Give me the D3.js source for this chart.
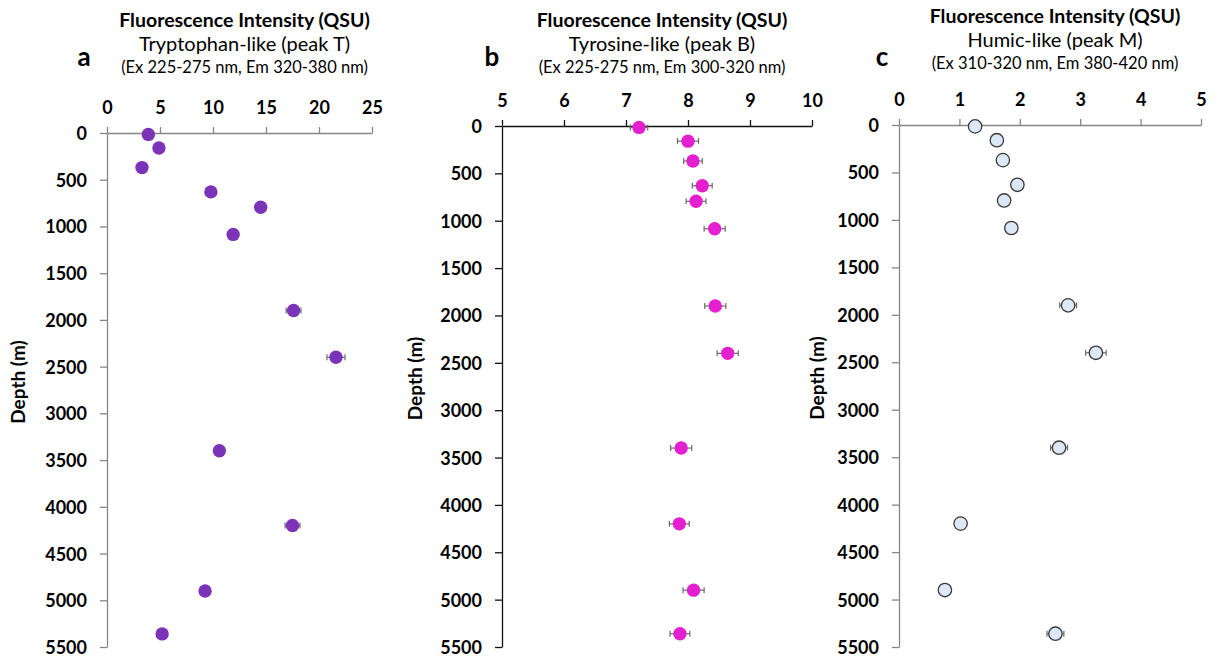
<!DOCTYPE html>
<html>
<head>
<meta charset="utf-8">
<script src="https://cdn.jsdelivr.net/npm/d3@7"></script>
<style>
  body { margin: 0; background: #fff; }
  svg text { font-family: Lato, "Open Sans", sans-serif; }
</style>
</head>
<body>
<div id="chart"></div>
<script>
// sampling depths (m), shared by all three panels
const depths = [15, 160, 370, 630, 795, 1085, 1900, 2400, 3400, 4200, 4900, 5360]

// peak T, tryptophan-like
const peakT = [3.9, 4.9, 3.3, 9.8, 14.5, 11.9, 17.6, 21.6, 10.6, 17.5, 9.25, 5.2]
const peakTErr = [0.3, 0.3, 0.3, 0.3, 0.4, 0.3, 0.7, 0.85, 0.4, 0.7, 0.3, 0.3]

// peak B, tyrosine-like
const peakB = [7.21, 8.0, 8.08, 8.23, 8.13, 8.43, 8.44, 8.64, 7.89, 7.86, 8.09, 7.87]
const peakBErr = [0.14, 0.17, 0.15, 0.16, 0.16, 0.17, 0.17, 0.17, 0.17, 0.16, 0.17, 0.16]

// peak M, humic-like
const peakM = [1.26, 1.62, 1.72, 1.96, 1.74, 1.86, 2.80, 3.26, 2.65, 1.02, 0.76, 2.59]
const peakMErr = [0.05, 0.05, 0.05, 0.05, 0.05, 0.05, 0.14, 0.17, 0.14, 0.05, 0.05, 0.14]

const depthTicks = d3.range(0, 5501, 500)
const titleText = "Fluorescence Intensity (QSU)"

const panels = [
  { letter: "a", sub: "Tryptophan-like (peak T)", range: "(Ex 225-275 nm, Em 320-380 nm)",
    values: peakT, errs: peakTErr, xDomain: [0, 25], xTicks: [0, 5, 10, 15, 20, 25],
    left: 107, right: 372, top: 133, bottom: 647, titleY: 20,
    axisColor: "#868686", fill: "#7b33b7", stroke: "none", labelX: 18, letterX: 84 },
  { letter: "b", sub: "Tyrosine-like (peak B)", range: "(Ex 225-275 nm, Em 300-320 nm)",
    values: peakB, errs: peakBErr, xDomain: [5, 10], xTicks: [5, 6, 7, 8, 9, 10],
    left: 502, right: 812, top: 126, bottom: 647, titleY: 20,
    axisColor: "#111", fill: "#e31fcf", stroke: "none", labelX: 415, letterX: 492 },
  { letter: "c", sub: "Humic-like (peak M)", range: "(Ex 310-320 nm, Em 380-420 nm)",
    values: peakM, errs: peakMErr, xDomain: [0, 5], xTicks: [0, 1, 2, 3, 4, 5],
    left: 899, right: 1201, top: 125, bottom: 647, titleY: 16,
    axisColor: "#868686", fill: "#dce8f5", stroke: "#3a3a3a", labelX: 817, letterX: 882 }
]

const svg = d3.select("#chart").append("svg")
  .attr("width", 1215)
  .attr("height", 662)

panels.forEach(function (p) {
  const x = d3.scaleLinear().domain(p.xDomain).range([p.left, p.right])
  const y = d3.scaleLinear().domain([0, 5500]).range([p.top, p.bottom])
  const g = svg.append("g")
  const cx = (p.left + p.right) / 2 + 5

  // headings
  g.append("text")
    .attr("x", cx).attr("y", p.titleY + 7)
    .attr("text-anchor", "middle")
    .style("font-size", "19.5px").style("font-weight", "bold")
    .text(titleText)
  g.append("text")
    .attr("x", cx).attr("y", p.titleY + 31)
    .attr("text-anchor", "middle")
    .style("font-size", "20px")
    .text(p.sub)
  g.append("text")
    .attr("x", cx).attr("y", p.titleY + 53)
    .attr("text-anchor", "middle")
    .style("font-size", "16.5px")
    .text(p.range)
  g.append("text")
    .attr("x", p.letterX).attr("y", 66)
    .attr("text-anchor", "middle")
    .style("font-size", "26px").style("font-weight", "bold")
    .text(p.letter)

  // axes
  const xAxis = g.append("g")
    .attr("transform", "translate(0," + p.top + ")")
    .call(d3.axisTop(x).tickValues(p.xTicks).tickFormat(d3.format("d"))
      .tickSize(6).tickSizeOuter(0).tickPadding(13))
  const yAxis = g.append("g")
    .attr("transform", "translate(" + p.left + ",0)")
    .call(d3.axisLeft(y).tickValues(depthTicks).tickFormat(d3.format("d"))
      .tickSize(7).tickSizeOuter(0).tickPadding(13))

  ;[xAxis, yAxis].forEach(function (ax) {
    ax.select(".domain").attr("stroke", p.axisColor).attr("stroke-width", 1.3)
    ax.selectAll(".tick line").attr("stroke", p.axisColor).attr("stroke-width", 1.3)
    ax.selectAll(".tick text")
      .attr("fill", "#000")
      .style("font-size", "18px").style("font-weight", "bold")
      .style("font-family", "Lato, sans-serif")
  })
  xAxis.selectAll(".tick text").attr("dy", "0")
  yAxis.selectAll(".tick text").attr("dy", "0.36em")

  g.append("text")
    .attr("transform", "translate(" + p.labelX + "," + ((p.top + p.bottom) / 2 - 8) + ") rotate(-90)")
    .attr("text-anchor", "middle")
    .attr("dy", "0.36em")
    .style("font-size", "19px").style("font-weight", "bold")
    .text("Depth (m)")

  const pts = depths.map(function (d, i) {
    return { depth: d, value: p.values[i], err: p.errs[i] }
  })

  // error bars
  const eb = g.selectAll(".err").data(pts).enter().append("g")
    .attr("stroke", "#6b6b6b").attr("stroke-width", 1.2)
  eb.append("line")
    .attr("x1", d => x(d.value - d.err)).attr("x2", d => x(d.value + d.err))
    .attr("y1", d => y(d.depth)).attr("y2", d => y(d.depth))
  eb.append("line")
    .attr("x1", d => x(d.value - d.err)).attr("x2", d => x(d.value - d.err))
    .attr("y1", d => y(d.depth) - 3).attr("y2", d => y(d.depth) + 3)
  eb.append("line")
    .attr("x1", d => x(d.value + d.err)).attr("x2", d => x(d.value + d.err))
    .attr("y1", d => y(d.depth) - 3).attr("y2", d => y(d.depth) + 3)

  // markers
  g.selectAll(".dot").data(pts).enter().append("circle")
    .attr("cx", d => x(d.value))
    .attr("cy", d => y(d.depth))
    .attr("r", 6.7)
    .attr("fill", p.fill)
    .attr("stroke", p.stroke)
    .attr("stroke-width", 1.3)
})
</script>
</body>
</html>
